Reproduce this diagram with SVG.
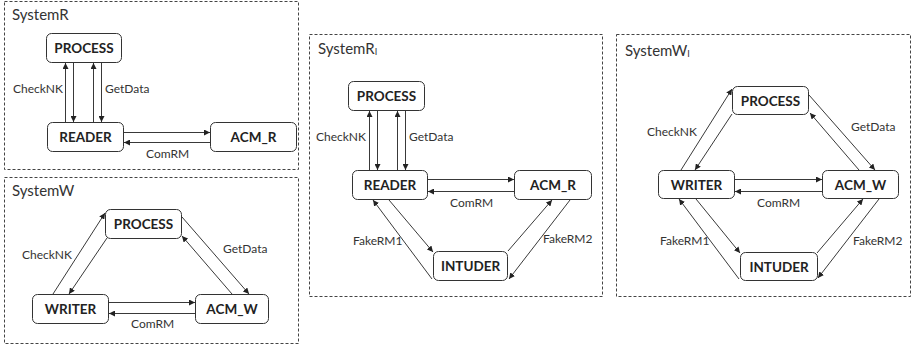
<svg xmlns="http://www.w3.org/2000/svg" width="912" height="347" viewBox="0 0 912 347">
  <style>
    .frame { fill: none; stroke: #444; stroke-width: 1; stroke-dasharray: 3 2; }
    .title { font-family: Lato, "Liberation Sans", sans-serif; font-size: 15px; fill: #333; }
    .box { fill: #fff; stroke: #333; stroke-width: 1; }
    .name { font-family: Lato, "Liberation Sans", sans-serif; font-size: 13.5px; font-weight: bold; fill: #222; text-anchor: middle; }
    .edge { stroke: #222; stroke-width: 0.9; fill: none; marker-end: url(#arrow); }
    .lbl { font-family: Lato, "Liberation Sans", sans-serif; font-size: 12px; fill: #333; }
  </style>
  <defs>
    <marker id="arrow" markerUnits="userSpaceOnUse" markerWidth="7" markerHeight="6" refX="6" refY="3" orient="auto">
      <path d="M0,0 L6,3 L0,6 z" fill="#222"/>
    </marker>
  </defs>
  <rect width="912" height="347" fill="#fff"/>

  <!-- SystemR -->
  <g id="systemR">
    <rect class="frame" x="4.5" y="1.5" width="294" height="168"/>
    <text class="title" x="12" y="20">SystemR</text>
    <g id="r-process"><rect class="box" x="46.5" y="33.5" width="75" height="29" rx="5"/><text class="name" x="84" y="53">PROCESS</text></g>
    <g id="r-reader"><rect class="box" x="47.5" y="122.5" width="76" height="29" rx="5"/><text class="name" x="85.5" y="142">READER</text></g>
    <g id="r-acm"><rect class="box" x="210.5" y="122.5" width="86" height="29" rx="5"/><text class="name" x="253.5" y="142">ACM_R</text></g>
    <g id="r-edges">
      <line class="edge" x1="65.5" y1="122" x2="65.5" y2="63"/>
      <line class="edge" x1="73.5" y1="63" x2="73.5" y2="122"/>
      <line class="edge" x1="93.5" y1="122" x2="93.5" y2="63"/>
      <line class="edge" x1="101.5" y1="63" x2="101.5" y2="122"/>
      <line class="edge" x1="124" y1="132.5" x2="210" y2="132.5"/>
      <line class="edge" x1="210" y1="142.5" x2="124" y2="142.5"/>
      <text class="lbl" x="63" y="93" text-anchor="end">CheckNK</text>
      <text class="lbl" x="105" y="93">GetData</text>
      <text class="lbl" x="146" y="158">ComRM</text>
    </g>
  </g>

  <!-- SystemW -->
  <g id="systemW">
    <rect class="frame" x="4.5" y="177.5" width="294" height="166"/>
    <text class="title" x="12" y="196">SystemW</text>
    <g id="w-process"><rect class="box" x="105.5" y="209.5" width="76" height="29" rx="5"/><text class="name" x="143.5" y="229">PROCESS</text></g>
    <g id="w-writer"><rect class="box" x="32.5" y="294.5" width="76" height="29" rx="5"/><text class="name" x="70.5" y="314">WRITER</text></g>
    <g id="w-acm"><rect class="box" x="195.5" y="294.5" width="73" height="29" rx="5"/><text class="name" x="232" y="314">ACM_W</text></g>
    <g id="w-edges">
      <line class="edge" x1="53" y1="294" x2="105" y2="213"/>
      <line class="edge" x1="107" y1="238" x2="69" y2="294"/>
      <line class="edge" x1="182" y1="217" x2="249" y2="294"/>
      <line class="edge" x1="232" y1="294" x2="182" y2="236"/>
      <line class="edge" x1="109" y1="302.5" x2="195" y2="302.5"/>
      <line class="edge" x1="195" y1="313.5" x2="109" y2="313.5"/>
      <text class="lbl" x="22" y="259">CheckNK</text>
      <text class="lbl" x="223" y="253">GetData</text>
      <text class="lbl" x="131" y="328">ComRM</text>
    </g>
  </g>

  <!-- SystemR with intruder -->
  <g id="systemRI">
    <rect class="frame" x="309.5" y="34.5" width="293" height="262"/>
    <text class="title" x="318" y="54">SystemR<tspan font-size="9" dy="1">I</tspan></text>
    <g id="ri-process"><rect class="box" x="348.5" y="81.5" width="76" height="29" rx="5"/><text class="name" x="386.5" y="101">PROCESS</text></g>
    <g id="ri-reader"><rect class="box" x="352.5" y="170.5" width="75" height="29" rx="5"/><text class="name" x="390" y="190">READER</text></g>
    <g id="ri-acm"><rect class="box" x="514.5" y="170.5" width="77" height="29" rx="5"/><text class="name" x="553" y="190">ACM_R</text></g>
    <g id="ri-intruder"><rect class="box" x="433.5" y="251.5" width="74" height="29" rx="5"/><text class="name" x="470.5" y="271">INTUDER</text></g>
    <g id="ri-edges">
      <line class="edge" x1="369.5" y1="170" x2="369.5" y2="111"/>
      <line class="edge" x1="377.5" y1="111" x2="377.5" y2="170"/>
      <line class="edge" x1="397.5" y1="170" x2="397.5" y2="111"/>
      <line class="edge" x1="405.5" y1="111" x2="405.5" y2="170"/>
      <line class="edge" x1="428" y1="179.5" x2="514" y2="179.5"/>
      <line class="edge" x1="514" y1="191.5" x2="428" y2="191.5"/>
      <line class="edge" x1="432" y1="279" x2="373" y2="200"/>
      <line class="edge" x1="389" y1="200" x2="433" y2="252"/>
      <line class="edge" x1="508" y1="251" x2="552" y2="200"/>
      <line class="edge" x1="570" y1="200" x2="509" y2="279"/>
      <text class="lbl" x="366" y="141" text-anchor="end">CheckNK</text>
      <text class="lbl" x="409" y="141">GetData</text>
      <text class="lbl" x="450" y="207">ComRM</text>
      <text class="lbl" x="353" y="245">FakeRM1</text>
      <text class="lbl" x="543" y="243">FakeRM2</text>
    </g>
  </g>

  <!-- SystemW with intruder -->
  <g id="systemWI">
    <rect class="frame" x="616.5" y="34.5" width="294" height="262"/>
    <text class="title" x="625" y="56">SystemW<tspan font-size="9" dy="1">I</tspan></text>
    <g id="wi-process"><rect class="box" x="732.5" y="86.5" width="76" height="28" rx="5"/><text class="name" x="770.5" y="105.5">PROCESS</text></g>
    <g id="wi-writer"><rect class="box" x="658.5" y="170.5" width="76" height="28" rx="5"/><text class="name" x="696.5" y="189.5">WRITER</text></g>
    <g id="wi-acm"><rect class="box" x="822.5" y="170.5" width="76" height="28" rx="5"/><text class="name" x="860.5" y="189.5">ACM_W</text></g>
    <g id="wi-intruder"><rect class="box" x="740.5" y="252.5" width="77" height="28" rx="5"/><text class="name" x="779" y="271.5">INTUDER</text></g>
    <g id="wi-edges">
      <line class="edge" x1="681" y1="170" x2="732" y2="89"/>
      <line class="edge" x1="732" y1="114" x2="695" y2="170"/>
      <line class="edge" x1="809" y1="95" x2="875" y2="170"/>
      <line class="edge" x1="859" y1="170" x2="810" y2="113"/>
      <line class="edge" x1="735" y1="179.5" x2="822" y2="179.5"/>
      <line class="edge" x1="822" y1="191.5" x2="735" y2="191.5"/>
      <line class="edge" x1="739" y1="279" x2="679" y2="199"/>
      <line class="edge" x1="696" y1="199" x2="740" y2="253"/>
      <line class="edge" x1="817" y1="253" x2="863" y2="199"/>
      <line class="edge" x1="879" y1="199" x2="818" y2="278"/>
      <text class="lbl" x="647" y="136">CheckNK</text>
      <text class="lbl" x="851" y="131">GetData</text>
      <text class="lbl" x="757" y="207">ComRM</text>
      <text class="lbl" x="660" y="245">FakeRM1</text>
      <text class="lbl" x="853" y="245">FakeRM2</text>
    </g>
  </g>
</svg>
